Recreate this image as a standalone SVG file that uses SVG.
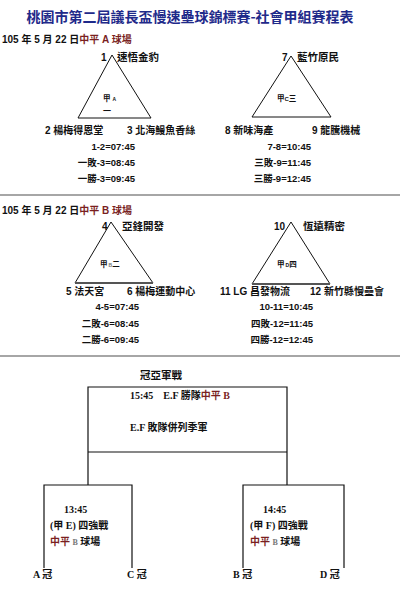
<svg xmlns="http://www.w3.org/2000/svg" width="400" height="600" viewBox="0 0 400 600">
<style>
.t{font-family:"Liberation Sans","Noto Sans CJK TC",sans-serif;font-weight:bold;fill:#111}
.s{font-family:"Liberation Serif","Noto Sans CJK TC",serif;font-weight:bold;fill:#111}
.red{fill:#7a1f1f}
.gray{fill:#777}
.tri{fill:none;stroke:#111;stroke-width:1}
.base{stroke:#555;stroke-width:2}
.sep{stroke:#888;stroke-width:1.5}
.ln{stroke:#111;stroke-width:1.2;fill:none}
</style>
<rect width="400" height="600" fill="#fff"/>
<text x="190" y="22" text-anchor="middle" font-family="Noto Sans CJK TC,sans-serif" font-weight="bold" font-size="14" fill="#1f2a8a">桃園市第二屆議長盃慢速壘球錦標賽-社會甲組賽程表</text>

<text class="t" x="2" y="43" font-size="10">105 年 5 月 22 日<tspan class="red">中平 A 球場</tspan></text>

<g id="triA">
<polygon class="tri" points="112,55 78,118 151,118"/>
<text class="t" x="101" y="61" font-size="10">1</text>
<text class="t" x="117" y="61" font-size="10.5">速悟金豹</text>
<text class="t" x="103" y="101" font-size="7.5">甲<tspan font-size="5" dx="2">A</tspan></text>
<text class="t" x="103" y="114" font-size="8">一</text>
<text class="t" x="45" y="134" font-size="10">2 楊梅得恩堂</text>
<text class="t" x="127" y="134" font-size="10">3 北海鰻魚香絲</text>
</g>
<g id="schedA">
<text class="t" x="135" y="150" font-size="9.5" text-anchor="end">1-2=07:45</text>
<text class="t" x="135" y="166" font-size="9.5" text-anchor="end">一敗-3=08:45</text>
<text class="t" x="135" y="182" font-size="9.5" text-anchor="end">一勝-3=09:45</text>
</g>

<g id="triC">
<polygon class="tri" points="291,56 252,117 331,117"/>
<text class="t" x="282" y="61" font-size="10">7</text>
<text class="t" x="297" y="61" font-size="10.5">藍竹原民</text>
<text class="t" x="277" y="101" font-size="7.5">甲<tspan font-size="6">C</tspan>三</text>
<text class="t" x="225" y="134" font-size="10">8 新味海產</text>
<text class="t" x="312" y="134" font-size="10">9 龍騰機械</text>
</g>
<g id="schedC">
<text class="t" x="311" y="150" font-size="9.5" text-anchor="end">7-8=10:45</text>
<text class="t" x="311" y="166" font-size="9.5" text-anchor="end">三敗-9=11:45</text>
<text class="t" x="311" y="182" font-size="9.5" text-anchor="end">三勝-9=12:45</text>
</g>

<line class="sep" x1="0" y1="195" x2="400" y2="195"/>

<text class="t" x="2" y="214" font-size="10">105 年 5 月 22 日<tspan class="red">中平 B 球場</tspan></text>

<g id="triB">
<polygon class="tri" points="111,222 75,283 153,283"/>
<line class="base" x1="75" y1="283" x2="153" y2="283"/>
<text class="t" x="102" y="230" font-size="10">4</text>
<text class="t" x="122" y="230" font-size="10.5">亞鋒開發</text>
<text class="t" x="100" y="267" font-size="7.5">甲<tspan font-size="5" class="gray" dx="1">B</tspan>二</text>
<text class="t" x="66" y="295" font-size="10">5 法天宮</text>
<text class="t" x="127" y="295" font-size="10">6 楊梅運動中心</text>
</g>
<g id="schedB">
<text class="t" x="139" y="310" font-size="9.5" text-anchor="end">4-5=07:45</text>
<text class="t" x="139" y="327" font-size="9.5" text-anchor="end">二敗-6=08:45</text>
<text class="t" x="139" y="343" font-size="9.5" text-anchor="end">二勝-6=09:45</text>
</g>

<g id="triD">
<polygon class="tri" points="291,222 252,284 330,284"/>
<line class="base" x1="252" y1="284" x2="330" y2="284"/>
<text class="t" x="274" y="230" font-size="10">10</text>
<text class="t" x="303" y="230" font-size="10.5">恆遠精密</text>
<text class="t" x="277" y="267" font-size="7.5">甲<tspan font-size="5" dx="1">D</tspan>四</text>
<text class="t" x="220" y="295" font-size="10">11 LG 昌發物流</text>
<text class="t" x="310" y="295" font-size="10">12 新竹縣慢壘會</text>
</g>
<g id="schedD">
<text class="t" x="313" y="310" font-size="9.5" text-anchor="end">10-11=10:45</text>
<text class="t" x="313" y="327" font-size="9.5" text-anchor="end">四敗-12=11:45</text>
<text class="t" x="313" y="343" font-size="9.5" text-anchor="end">四勝-12=12:45</text>
</g>

<line class="sep" x1="0" y1="356" x2="400" y2="356"/>

<g id="final">
<text class="s" x="140" y="379" font-size="10.5">冠亞軍戰</text>
<text class="s" x="130" y="399" font-size="10">15:45　E.F 勝隊<tspan class="red">中平 B</tspan></text>
<text class="s" x="130" y="431" font-size="10">E.F 敗隊併列季軍</text>
</g>

<g id="semiE">
<text class="s" x="64" y="513" font-size="10">13:45</text>
<text class="s" x="50" y="529" font-size="10">(甲 E) 四強戰</text>
<text class="s" x="50" y="545" font-size="10"><tspan class="red">中平</tspan> <tspan class="gray" font-size="8">B</tspan> 球場</text>
<text class="s" x="33" y="578" font-size="10">A 冠</text>
<text class="s" x="127" y="578" font-size="10">C 冠</text>
</g>

<g id="semiF">
<text class="s" x="263" y="513" font-size="10">14:45</text>
<text class="s" x="250" y="529" font-size="10">(甲 F) 四強戰</text>
<text class="s" x="250" y="545" font-size="10"><tspan class="red">中平</tspan> <tspan class="gray" font-size="8">B</tspan> 球場</text>
<text class="s" x="233" y="578" font-size="10">B 冠</text>
<text class="s" x="320" y="578" font-size="10">D 冠</text>
</g>

<g id="connectors">
<polyline class="ln" points="88,485 88,387 287,387 287,485"/>
<line class="ln" x1="88" y1="452" x2="287" y2="452"/>
<polyline class="ln" points="44,568 44,485 132,485 132,568"/>
<polyline class="ln" points="243,568 243,485 344,485 344,568"/>
</g>
</svg>
